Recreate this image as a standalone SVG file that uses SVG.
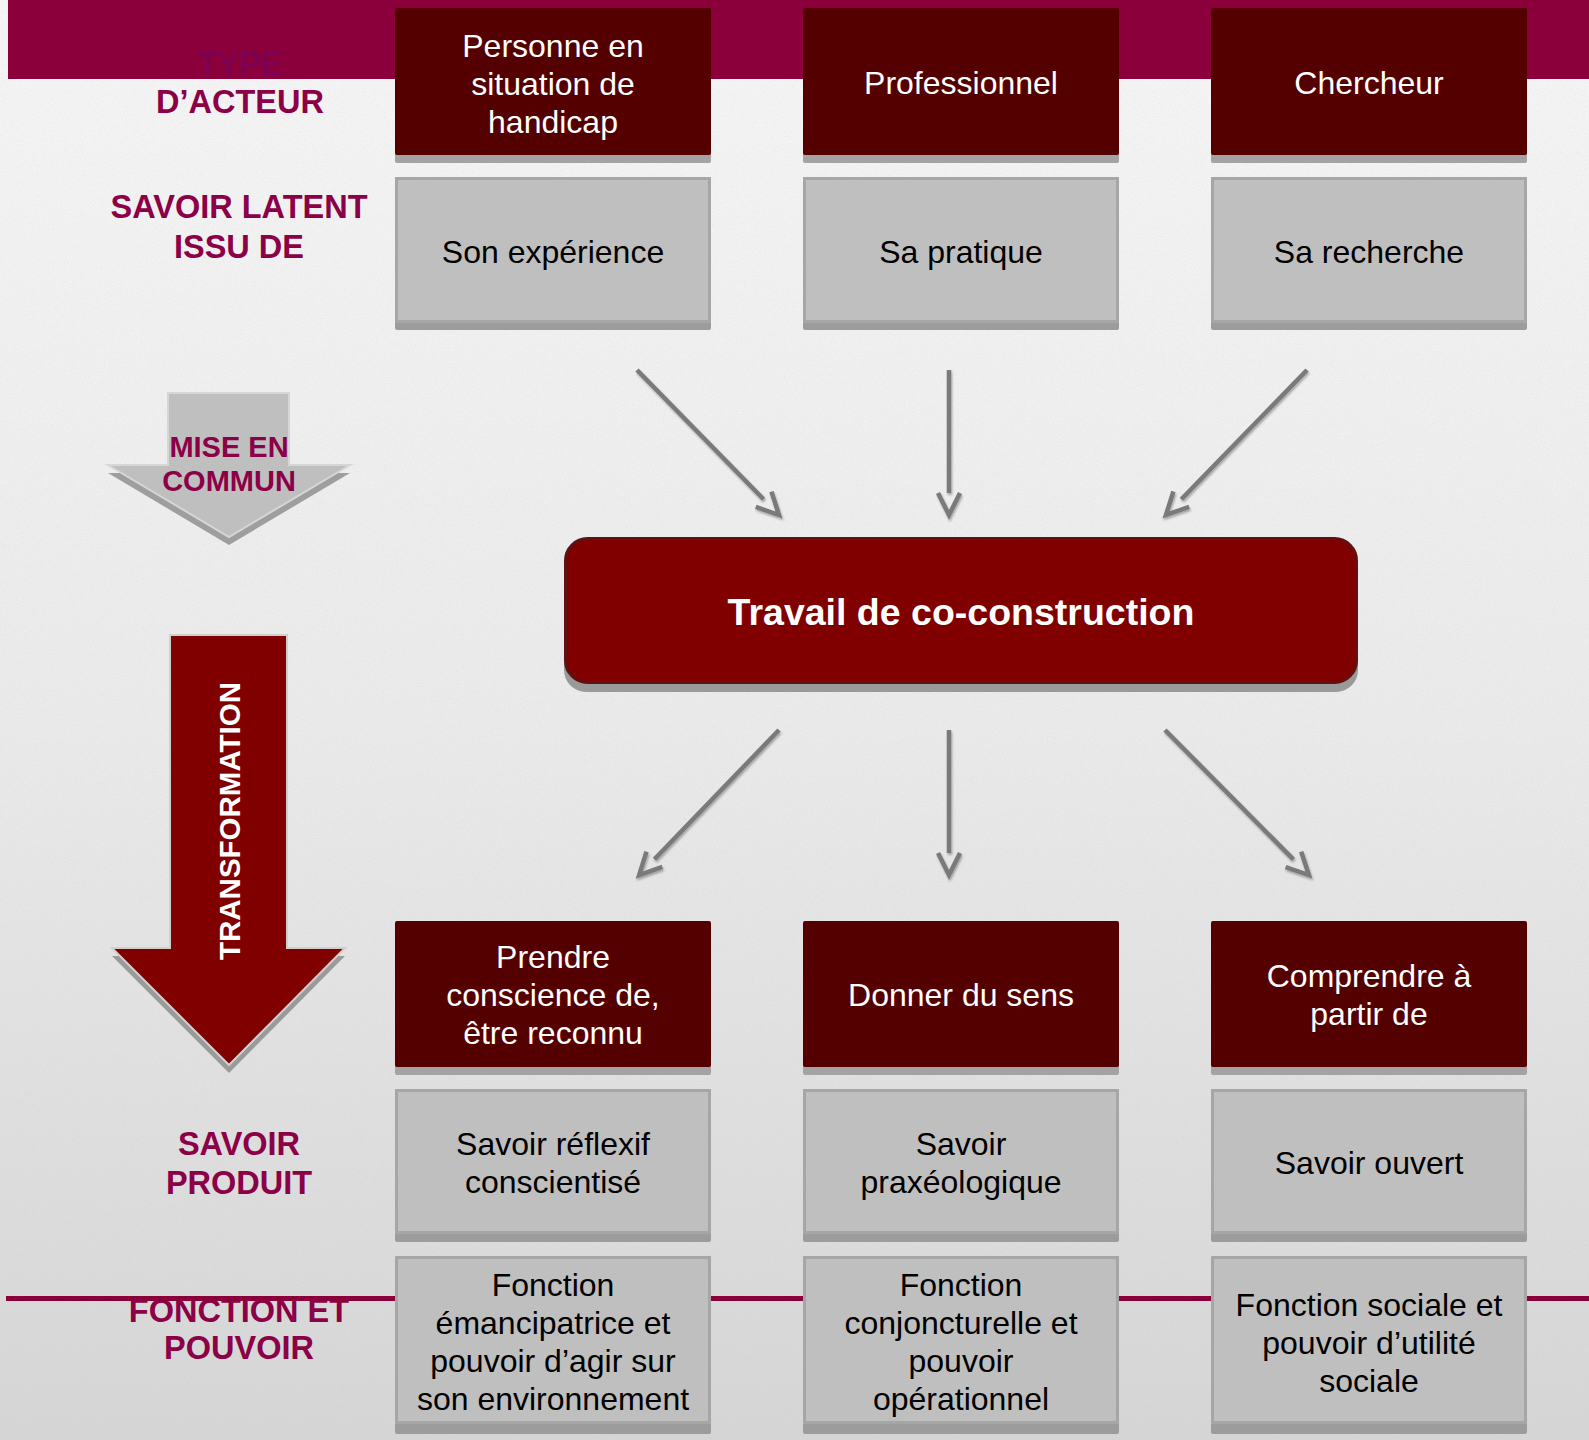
<svg xmlns="http://www.w3.org/2000/svg" width="1589" height="1440" viewBox="0 0 1589 1440">
<defs>
  <linearGradient id="bg" x1="0" y1="0" x2="0" y2="1">
    <stop offset="0" stop-color="#f6f6f6"/>
    <stop offset="0.5" stop-color="#ebebeb"/>
    <stop offset="1" stop-color="#d6d6d6"/>
  </linearGradient>
  <filter id="noise" x="0" y="0" width="100%" height="100%">
    <feTurbulence type="fractalNoise" baseFrequency="0.9" numOctaves="2" seed="3" result="n"/>
    <feColorMatrix type="matrix" values="0 0 0 0 0.5  0 0 0 0 0.5  0 0 0 0 0.5  0 0 0 -0.9 0.55"/>
  </filter>
  <filter id="ds" x="-10%" y="-10%" width="130%" height="130%">
    <feDropShadow dx="1" dy="2" stdDeviation="1" flood-color="#000" flood-opacity="0.3"/>
  </filter>
  <marker id="head" markerUnits="userSpaceOnUse" markerWidth="30" markerHeight="30" viewBox="-3 -14 30 28" refX="0" refY="0" orient="auto" overflow="visible">
    <path d="M0,-11 L22,0 L0,11" fill="none" stroke="#7a7a7a" stroke-width="4.5" stroke-linejoin="miter"/>
  </marker>
  <style>
    .dark { fill: #540000; }
    .darkstrip { fill: #a3a3a3; }
    .grey { fill: #bfbfbf; stroke: #a6a6a6; stroke-width: 3; }
    .greystrip { fill: #9c9c9c; }
    .wt { font-family: "Liberation Sans", Arial, sans-serif; font-size: 32px; fill: #ffffff; text-anchor: middle; }
    .bt { font-family: "Liberation Sans", Arial, sans-serif; font-size: 32px; fill: #000000; text-anchor: middle; }
    .lab { font-family: "Liberation Sans", Arial, sans-serif; font-size: 32.5px; font-weight: bold; fill: #8b0047; text-anchor: middle; }
    .conn { stroke: #7a7a7a; stroke-width: 4.5; fill: none; marker-end: url(#head); }
  </style>
</defs>

<!-- background -->
<rect x="0" y="0" width="1589" height="1440" fill="url(#bg)"/>
<rect x="0" y="0" width="1589" height="1440" filter="url(#noise)" opacity="0.35"/>

<!-- top band -->
<rect x="8" y="0" width="1581" height="79" fill="#8b003a"/>

<!-- left labels -->
<g id="label-type-acteur">
  <text class="lab" x="240" y="75" style="fill:#7d0052">TYPE</text>
  <text class="lab" x="240" y="113">D’ACTEUR</text>
</g>
<g id="label-savoir-latent">
  <text class="lab" x="239" y="218">SAVOIR LATENT</text>
  <text class="lab" x="239" y="258">ISSU DE</text>
</g>
<g id="label-savoir-produit">
  <text class="lab" x="239" y="1155">SAVOIR</text>
  <text class="lab" x="239" y="1194">PRODUIT</text>
</g>
<g id="label-fonction">
  <text class="lab" x="239" y="1322">FONCTION ET</text>
  <text class="lab" x="239" y="1359">POUVOIR</text>
</g>

<!-- bottom magenta line -->
<rect x="6" y="1296" width="1583" height="5" fill="#8b003a"/>

<!-- Mise en commun arrow -->
<g id="arrow-mise-en-commun">
  <polygon points="168,401 289,401 289,473 350,473 229,545 108,473 168,473" fill="#9e9e9e"/>
  <polygon points="168,393 289,393 289,465 350,465 229,537 108,465 168,465" fill="#bfbfbf" stroke="#d6d6d6" stroke-width="2"/>
  <text class="lab" x="229" y="457" style="font-size:29px">MISE EN</text>
  <text class="lab" x="229" y="491" style="font-size:29px">COMMUN</text>
</g>

<!-- Transformation arrow -->
<g id="arrow-transformation">
  <polygon points="170,643 287,643 287,956 345,956 229,1073 112,956 170,956" fill="#9a9a9a"/>
  <polygon points="170,635 287,635 287,948 345,948 229,1065 112,948 170,948" fill="#800000" stroke="#cfcfcf" stroke-width="2"/>
  <text x="240" y="821" transform="rotate(-90 240 821)" font-size="29.5" font-weight="bold" fill="#ffffff" text-anchor="middle" style="font-family:'Liberation Sans', Arial, sans-serif">TRANSFORMATION</text>
</g>

<!-- connectors -->
<g id="connectors" filter="url(#ds)">
  <line class="conn" x1="637" y1="370" x2="763.6" y2="499.3"/>
  <line class="conn" x1="949" y1="370" x2="949" y2="493"/>
  <line class="conn" x1="1307" y1="370" x2="1181.3" y2="499.2"/>
  <line class="conn" x1="779" y1="730" x2="654.4" y2="859.3"/>
  <line class="conn" x1="949" y1="730" x2="949" y2="853"/>
  <line class="conn" x1="1165" y1="730" x2="1293.4" y2="859.4"/>
</g>

<!-- top actor boxes -->
<g id="node-personne">
  <rect class="darkstrip" x="395" y="12" width="316" height="151" rx="2"/>
  <rect class="dark" x="395" y="8" width="316" height="147" rx="2"/>
  <text class="wt" x="553" y="57">Personne en</text>
  <text class="wt" x="553" y="95">situation de</text>
  <text class="wt" x="553" y="133">handicap</text>
</g>
<g id="node-professionnel">
  <rect class="darkstrip" x="803" y="12" width="316" height="151" rx="2"/>
  <rect class="dark" x="803" y="8" width="316" height="147" rx="2"/>
  <text class="wt" x="961" y="94">Professionnel</text>
</g>
<g id="node-chercheur">
  <rect class="darkstrip" x="1211" y="12" width="316" height="151" rx="2"/>
  <rect class="dark" x="1211" y="8" width="316" height="147" rx="2"/>
  <text class="wt" x="1369" y="94">Chercheur</text>
</g>

<!-- latent knowledge boxes -->
<g id="node-experience">
  <rect class="greystrip" x="395" y="181" width="316" height="149" rx="2"/>
  <rect class="grey" x="396.5" y="178.5" width="313" height="143"/>
  <text class="bt" x="553" y="263">Son expérience</text>
</g>
<g id="node-pratique">
  <rect class="greystrip" x="803" y="181" width="316" height="149" rx="2"/>
  <rect class="grey" x="804.5" y="178.5" width="313" height="143"/>
  <text class="bt" x="961" y="263">Sa pratique</text>
</g>
<g id="node-recherche">
  <rect class="greystrip" x="1211" y="181" width="316" height="149" rx="2"/>
  <rect class="grey" x="1212.5" y="178.5" width="313" height="143"/>
  <text class="bt" x="1369" y="263">Sa recherche</text>
</g>

<!-- central box -->
<g id="node-coconstruction">
  <rect x="564" y="545" width="794" height="147" rx="22" fill="#9a9a9a"/>
  <rect x="565.5" y="538.5" width="791" height="144" rx="22" fill="#800000" stroke="#5e1212" stroke-width="3"/>
  <text x="961" y="625" font-size="37.5" font-weight="bold" fill="#ffffff" text-anchor="middle" style="font-family:'Liberation Sans', Arial, sans-serif">Travail de co-construction</text>
</g>

<!-- bottom dark boxes -->
<g id="node-prendre">
  <rect class="darkstrip" x="395" y="925" width="316" height="150" rx="2"/>
  <rect class="dark" x="395" y="921" width="316" height="146" rx="2"/>
  <text class="wt" x="553" y="968">Prendre</text>
  <text class="wt" x="553" y="1006">conscience de,</text>
  <text class="wt" x="553" y="1044">être reconnu</text>
</g>
<g id="node-donner">
  <rect class="darkstrip" x="803" y="925" width="316" height="150" rx="2"/>
  <rect class="dark" x="803" y="921" width="316" height="146" rx="2"/>
  <text class="wt" x="961" y="1006">Donner du sens</text>
</g>
<g id="node-comprendre">
  <rect class="darkstrip" x="1211" y="925" width="316" height="150" rx="2"/>
  <rect class="dark" x="1211" y="921" width="316" height="146" rx="2"/>
  <text class="wt" x="1369" y="987">Comprendre à</text>
  <text class="wt" x="1369" y="1025">partir de</text>
</g>

<!-- produced knowledge boxes -->
<g id="node-reflexif">
  <rect class="greystrip" x="395" y="1093" width="316" height="149" rx="2"/>
  <rect class="grey" x="396.5" y="1090.5" width="313" height="142"/>
  <text class="bt" x="553" y="1155">Savoir réflexif</text>
  <text class="bt" x="553" y="1193">conscientisé</text>
</g>
<g id="node-praxeologique">
  <rect class="greystrip" x="803" y="1093" width="316" height="149" rx="2"/>
  <rect class="grey" x="804.5" y="1090.5" width="313" height="142"/>
  <text class="bt" x="961" y="1155">Savoir</text>
  <text class="bt" x="961" y="1193">praxéologique</text>
</g>
<g id="node-ouvert">
  <rect class="greystrip" x="1211" y="1093" width="316" height="149" rx="2"/>
  <rect class="grey" x="1212.5" y="1090.5" width="313" height="142"/>
  <text class="bt" x="1369" y="1174">Savoir ouvert</text>
</g>

<!-- function boxes -->
<g id="node-emancipatrice">
  <rect class="greystrip" x="395" y="1260" width="316" height="174" rx="2"/>
  <rect class="grey" x="396.5" y="1257.5" width="313" height="165"/>
  <text class="bt" x="553" y="1296">Fonction</text>
  <text class="bt" x="553" y="1334">émancipatrice et</text>
  <text class="bt" x="553" y="1372">pouvoir d’agir sur</text>
  <text class="bt" x="553" y="1410">son environnement</text>
</g>
<g id="node-conjoncturelle">
  <rect class="greystrip" x="803" y="1260" width="316" height="174" rx="2"/>
  <rect class="grey" x="804.5" y="1257.5" width="313" height="165"/>
  <text class="bt" x="961" y="1296">Fonction</text>
  <text class="bt" x="961" y="1334">conjoncturelle et</text>
  <text class="bt" x="961" y="1372">pouvoir</text>
  <text class="bt" x="961" y="1410">opérationnel</text>
</g>
<g id="node-sociale">
  <rect class="greystrip" x="1211" y="1260" width="316" height="174" rx="2"/>
  <rect class="grey" x="1212.5" y="1257.5" width="313" height="165"/>
  <text class="bt" x="1369" y="1316">Fonction sociale et</text>
  <text class="bt" x="1369" y="1354">pouvoir d’utilité</text>
  <text class="bt" x="1369" y="1392">sociale</text>
</g>
</svg>
